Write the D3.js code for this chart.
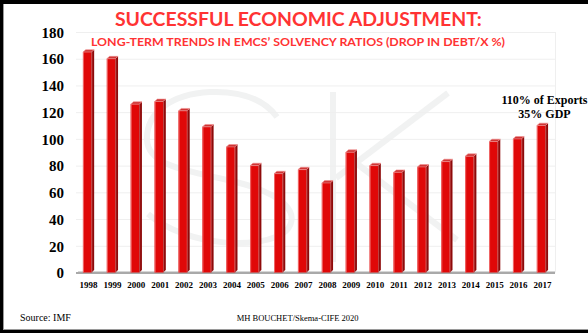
<!DOCTYPE html>
<html>
<head>
<meta charset="utf-8">
<script src="https://cdn.jsdelivr.net/npm/d3@7"></script>
<style>
  html, body { margin: 0; padding: 0; background: #fff; }
  svg { display: block; }
</style>
</head>
<body>
<svg id="chart" width="588" height="333"></svg>
<script>
// Debt-to-exports ratio of emerging market countries, 1998-2017 (%)
const years = ["1998","1999","2000","2001","2002","2003","2004","2005","2006","2007",
               "2008","2009","2010","2011","2012","2013","2014","2015","2016","2017"];
const debtToExports = [165, 160, 126, 128, 121, 109, 94, 80, 74, 77,
                       67, 90, 80, 75, 79, 83, 87, 98, 100, 110];
const yTicks = [0, 20, 40, 60, 80, 100, 120, 140, 160, 180];
const titleText = "SUCCESSFUL ECONOMIC ADJUSTMENT:";
const subtitleText = "LONG-TERM TRENDS IN EMCS\u2019 SOLVENCY RATIOS (DROP IN DEBT/X %)";
const noteLines = ["110% of Exports", "35% GDP"];
const sourceText = "Source: IMF";
const creditText = "MH BOUCHET/Skema-CIFE 2020";

const W = 588, H = 333;
const plot = { left: 76, right: 555, top: 32, bottom: 272.5 };
const depth = { dx: 2.8, dy: 2.4 };
const serif = "'Liberation Serif', 'Times New Roman', serif";

const svg = d3.select("#chart");

// frame
svg.append("rect").attr("x", 0).attr("y", 0).attr("width", W).attr("height", H).attr("fill", "#fff");

const x = d3.scaleBand().domain(years).range([plot.left, plot.right])
  .paddingInner(0.53).paddingOuter(0.29);
const y = d3.scaleLinear().domain([0, 180]).range([plot.bottom, plot.top]);

// faint logo watermark behind the plot
const wm = svg.append("g").attr("fill", "none").attr("stroke", "#f1f2f2").attr("stroke-width", 6)
  .attr("stroke-linecap", "butt");
wm.append("path").attr("d",
  "M277,117 C262,97 236,91 210,92 C172,94 146,112 147,140 C148,168 196,172 236,182 " +
  "C284,194 302,214 286,231 C264,250 188,248 148,214");
wm.append("line").attr("x1", 333).attr("y1", 92).attr("x2", 333).attr("y2", 262);
wm.append("line").attr("x1", 448).attr("y1", 93).attr("x2", 336).attr("y2", 178);
wm.append("line").attr("x1", 352).attr("y1", 160).attr("x2", 457).attr("y2", 240);

// gridlines and plot frame
svg.append("g").selectAll("line").data(yTicks.filter(t => t > 0)).join("line")
  .attr("x1", plot.left).attr("x2", plot.right)
  .attr("y1", d => y(d) + 0.5).attr("y2", d => y(d) + 0.5)
  .attr("stroke", "#efefef").attr("stroke-width", 1);
svg.append("line").attr("x1", plot.right + 0.5).attr("x2", plot.right + 0.5)
  .attr("y1", plot.top).attr("y2", plot.bottom).attr("stroke", "#efefef");

// floor
svg.append("line").attr("x1", plot.left).attr("x2", plot.right)
  .attr("y1", plot.bottom + 0.5).attr("y2", plot.bottom + 0.5)
  .attr("stroke", "#a9a9a9").attr("stroke-width", 2);
svg.append("line").attr("x1", plot.left + 2).attr("x2", plot.right)
  .attr("y1", plot.bottom - 1).attr("y2", plot.bottom - 1)
  .attr("stroke", "#d6d6d6").attr("stroke-width", 1);

// 3D columns
const faceW = x.bandwidth() - depth.dx;
const bars = svg.append("g").selectAll("g").data(years.map((yr, i) => ({ yr, v: debtToExports[i] })))
  .join("g");

bars.append("path") // side face
  .attr("d", d => {
    const x0 = x(d.yr) + faceW, yt = y(d.v), yb = y(0);
    return `M${x0},${yt} L${x0 + depth.dx},${yt - depth.dy} L${x0 + depth.dx},${yb - depth.dy} L${x0},${yb} Z`;
  })
  .attr("fill", "#8e0a0a");

bars.append("rect") // front face
  .attr("x", d => x(d.yr)).attr("y", d => y(d.v))
  .attr("width", faceW).attr("height", d => y(0) - y(d.v))
  .attr("fill", "#e00808");

bars.append("line") // highlight on front left edge
  .attr("x1", d => x(d.yr) + 0.5).attr("x2", d => x(d.yr) + 0.5)
  .attr("y1", d => y(d.v)).attr("y2", y(0))
  .attr("stroke", "#f06a6a").attr("stroke-width", 1);

bars.append("line") // highlight on side inner edge
  .attr("x1", d => x(d.yr) + faceW + 0.5).attr("x2", d => x(d.yr) + faceW + 0.5)
  .attr("y1", d => y(d.v)).attr("y2", y(0))
  .attr("stroke", "#c85050").attr("stroke-width", 0.8);

bars.append("path") // top cap
  .attr("d", d => {
    const x0 = x(d.yr), yt = y(d.v);
    return `M${x0},${yt} L${x0 + depth.dx},${yt - depth.dy} L${x0 + faceW + depth.dx},${yt - depth.dy} L${x0 + faceW},${yt} Z`;
  })
  .attr("fill", "#cf3535").attr("stroke", "#f09090").attr("stroke-width", 0.6);

// y axis labels
const yAxis = d3.axisLeft(y).tickValues(yTicks).tickSize(0).tickPadding(0);
const gy = svg.append("g").attr("transform", "translate(64,0)").call(yAxis);
gy.select(".domain").remove();
gy.selectAll("text").attr("font-family", serif).attr("font-weight", "bold")
  .attr("font-size", 15).attr("fill", "#000").attr("dy", "0.35em");

// x axis labels
const xAxis = d3.axisBottom(x).tickSize(0).tickPadding(0);
const gx = svg.append("g").attr("transform", `translate(0,${plot.bottom + 15})`).call(xAxis);
gx.select(".domain").remove();
gx.selectAll("text").attr("font-family", serif).attr("font-weight", "bold")
  .attr("font-size", 9).attr("fill", "#000").attr("dy", 0);

// titles
svg.append("text").attr("x", 298.4).attr("y", 26).attr("text-anchor", "middle")
  .attr("font-family", "Lato, 'Open Sans', sans-serif").attr("font-weight", "bold")
  .attr("font-size", 18.5).attr("fill", "#ff3333")
  .attr("textLength", 367).attr("lengthAdjust", "spacingAndGlyphs")
  .text(titleText);
svg.append("text").attr("x", 298).attr("y", 46).attr("text-anchor", "middle")
  .attr("font-family", "Lato, 'Open Sans', sans-serif").attr("font-weight", "bold")
  .attr("font-size", 10.5).attr("fill", "#ff3333")
  .attr("textLength", 414).attr("lengthAdjust", "spacingAndGlyphs")
  .text(subtitleText);

// note over the last column
svg.append("g").selectAll("text").data(noteLines).join("text")
  .attr("x", 544.5).attr("y", (d, i) => 104.3 + i * 14)
  .attr("text-anchor", "middle").attr("font-family", serif).attr("font-weight", "bold")
  .attr("font-size", 12).attr("fill", "#000").text(d => d);

// footer
svg.append("text").attr("x", 20).attr("y", 320.5).attr("font-family", serif)
  .attr("font-size", 10).attr("fill", "#000").text(sourceText);
svg.append("text").attr("x", 236.7).attr("y", 320.5).attr("font-family", serif)
  .attr("font-size", 8.5).attr("fill", "#000").text(creditText);

// black border on top, left and bottom
svg.append("rect").attr("x", 0).attr("y", 0).attr("width", W).attr("height", 4).attr("fill", "#000");
svg.append("rect").attr("x", 0).attr("y", 0).attr("width", 3).attr("height", H).attr("fill", "#000");
svg.append("rect").attr("x", 0).attr("y", 330).attr("width", W).attr("height", 3).attr("fill", "#000");
svg.append("line").attr("x1", 3.5).attr("x2", 3.5).attr("y1", 4).attr("y2", 330).attr("stroke", "#9a9a9a");
svg.append("line").attr("x1", 3).attr("x2", W).attr("y1", 329.5).attr("y2", 329.5).attr("stroke", "#9a9a9a");
</script>
</body>
</html>
